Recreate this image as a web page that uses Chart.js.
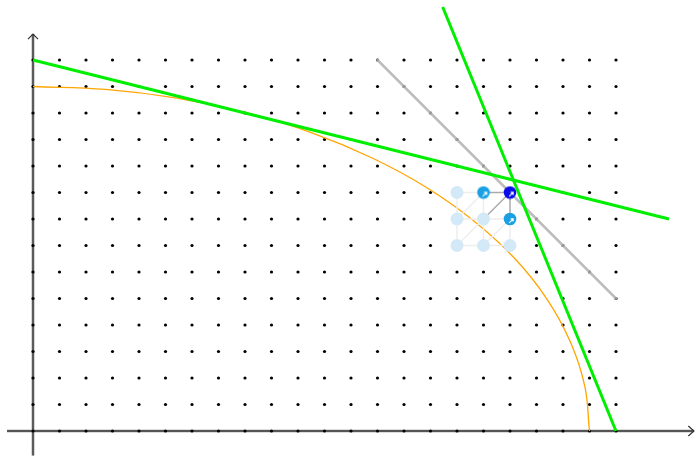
<!DOCTYPE html>
<html>
<head>
<meta charset="utf-8">
<script src="https://cdn.jsdelivr.net/npm/chart.js@4/dist/chart.umd.min.js"></script>
<style>
  html, body { margin: 0; padding: 0; background: #fff; overflow: hidden; }
  #wrap { width: 695px; height: 456px; }
</style>
</head>
<body>
<div id="wrap"><canvas id="c"></canvas></div>
<script>
// Integer lattice
const gridX = [0, 1, 2, 3, 4, 5, 6, 7, 8, 9, 10, 11, 12, 13, 14, 15, 16, 17, 18, 19, 20, 21, 22];
const gridY = [0, 1, 2, 3, 4, 5, 6, 7, 8, 9, 10, 11, 12, 13, 14];

// Axes (with open arrow heads)
const xAxisLine = [[-0.98, 0], [24.94, 0]];
const yAxisLine = [[0, -0.92], [0, 14.98]];
const xArrow = [[24.73, 0.19], [24.94, 0], [24.73, -0.19]];
const yArrow = [[-0.19, 14.79], [0, 14.98], [0.19, 14.79]];

// Quarter ellipse (semi-axes 21 and 13)
const ellipsePts = [
  [0, 13], [2.74, 12.89], [5.43, 12.56], [8.04, 12.01], [10.5, 11.26],
  [12.78, 10.31], [14.85, 9.19], [16.66, 7.91], [18.19, 6.5], [19.40, 4.97],
  [20.28, 3.36], [20.82, 1.70], [21, 0]
];

// Gray line x + y = 27
const grayPts = [[13, 14], [14, 13], [15, 12], [16, 11], [17, 10], [18, 9], [19, 8], [20, 7], [21, 6], [22, 5]];

// Green lines
const greenSteep = [[22, 0], [15.46, 16]];
const greenFlat = [[0, 14], [24, 8]];

// Search nodes
const lightNodes = [[16, 9], [16, 8], [17, 8], [16, 7], [17, 7], [18, 7]];
const midNodes = [[17, 9], [18, 8]];
const bestNode = [[18, 9]];

// Edges between nodes
const lightEdges = [
  [[16, 9], [17, 9]], [[16, 8], [17, 8]], [[17, 8], [18, 8]],
  [[16, 7], [17, 7]], [[17, 7], [18, 7]],
  [[16, 8], [16, 9]], [[17, 8], [17, 9]], [[16, 7], [16, 8]],
  [[17, 7], [17, 8]], [[18, 7], [18, 8]],
  [[16, 8], [17, 9]], [[16, 7], [17, 8]], [[17, 7], [18, 8]]
];
const darkEdges = [
  [[17, 9], [18, 9]], [[18, 8], [18, 9]], [[17, 8], [18, 9]]
];

const xy = arr => arr.map(p => ({ x: p[0], y: p[1] }));

// Node marker with a small white arrow inside
function nodeMarker(color) {
  const s = 14, c = document.createElement('canvas');
  c.width = s; c.height = s;
  const g = c.getContext('2d');
  g.fillStyle = color;
  g.beginPath(); g.arc(7, 7, 6.3, 0, Math.PI * 2); g.fill();
  g.strokeStyle = '#fff'; g.lineWidth = 1.1;
  g.beginPath();
  g.moveTo(6.2, 10.8); g.lineTo(10.2, 6.8);
  g.moveTo(7.6, 6.9); g.lineTo(10.2, 6.8); g.lineTo(10.1, 9.4);
  g.stroke();
  return c;
}

const lineDs = (pts, color, width, order, extra) => Object.assign({
  data: xy(pts), showLine: true, borderColor: color, backgroundColor: color,
  borderWidth: width, pointRadius: 0, order: order, tension: 0,
  borderCapStyle: 'butt', borderJoinStyle: 'miter'
}, extra || {});

const gridPts = [];
gridY.forEach(y => gridX.forEach(x => gridPts.push([x, y])));

const datasets = [];
datasets.push(lineDs(greenSteep, '#00ee00', 3, 0));
datasets.push(lineDs(greenFlat, '#00ee00', 3, 0));
datasets.push({ data: xy(bestNode), pointStyle: nodeMarker('#0b0be8'), pointRadius: 7, order: 1 });
datasets.push({ data: xy(midNodes), pointStyle: nodeMarker('#1aa0e2'), pointRadius: 7, order: 1 });
datasets.push({ data: xy(lightNodes), pointStyle: 'circle', pointRadius: 6.5, borderWidth: 0,
  backgroundColor: '#d3e9f8', borderColor: '#d3e9f8', order: 2 });
darkEdges.forEach(e => datasets.push(lineDs(e, '#aaaaaa', 1.5, 3)));
lightEdges.forEach(e => datasets.push(lineDs(e, '#eeeeee', 1.5, 4)));
datasets.push(lineDs(grayPts, '#bdbdbd', 2.5, 5, { pointRadius: 1.4, pointBackgroundColor: '#999', pointBorderWidth: 0 }));
datasets.push(lineDs(ellipsePts, '#ffa500', 1.3, 6, { tension: 0.4, cubicInterpolationMode: 'default' }));
datasets.push({ data: xy(gridPts), pointRadius: 1.6, pointBorderWidth: 0,
  backgroundColor: '#000', borderColor: '#000', order: 7 });
datasets.push(lineDs(xAxisLine, '#333', 1.4, 8));
datasets.push(lineDs(yAxisLine, '#333', 1.4, 8));
datasets.push(lineDs(xArrow, '#333', 1.2, 8, { borderJoinStyle: 'miter' }));
datasets.push(lineDs(yArrow, '#333', 1.2, 8, { borderJoinStyle: 'miter' }));
datasets.push(lineDs(xAxisLine, '#bbbbbb', 3.2, 9));
datasets.push(lineDs(yAxisLine, '#bbbbbb', 3.2, 9));

const unit = 26.5;
new Chart(document.getElementById('c'), {
  type: 'scatter',
  data: { datasets },
  options: {
    responsive: true, maintainAspectRatio: false, animation: false,
    layout: { padding: 0, autoPadding: false },
    plugins: { legend: { display: false }, tooltip: { enabled: false } },
    events: [],
    scales: {
      x: { type: 'linear', display: false, min: -33 / unit, max: -33 / unit + 695 / unit },
      y: { type: 'linear', display: false, min: -25 / unit, max: 431 / unit }
    }
  }
});
</script>
</body>
</html>
